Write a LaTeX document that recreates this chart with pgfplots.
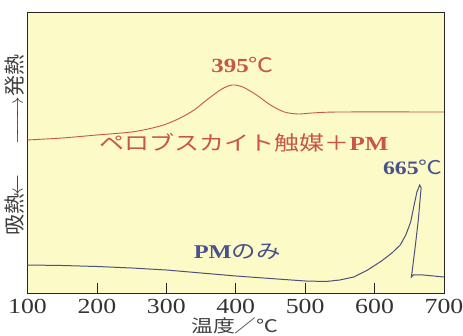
\documentclass[border=0pt]{standalone}
\usepackage{graphicx}
\usepackage{fontspec}
\setmainfont{Liberation Serif}
\newfontfamily\jp{Noto Sans CJK JP}
\usepackage{pgfplots}
\pgfplotsset{compat=1.18}
\definecolor{bgY}{RGB}{252,250,198}
\definecolor{redc}{RGB}{200,85,75}
\definecolor{bluec}{RGB}{75,82,125}
\definecolor{bluet}{RGB}{72,82,140}
\newcommand\hs[1]{\scalebox{1.25}[1]{#1}}
\newcommand\tks[1]{\scalebox{1.2}[1]{\fontsize{21.5}{21.5}\selectfont #1}}
\begin{document}
\begin{tikzpicture}
\useasboundingbox (0,0) rectangle (463pt,336pt);
\begin{axis}[
  at={(27.5pt,43pt)}, anchor=south west,
  scale only axis, width=416.5pt, height=281pt,
  xmin=100, xmax=700, ymin=0, ymax=281,
  axis background/.style={fill=bgY},
  axis line style={draw=black!85, line width=0.9pt},
  xtick={100,200,...,700}, ytick=\empty,
  xticklabels={\tks{100},\tks{200},\tks{300},\tks{400},\tks{500},\tks{600},\tks{700}},
  xtick pos=bottom, xtick align=inside,
  major tick length=10pt,
  tick style={black!85, line width=0.8pt},
  xticklabel style={text=black!80, yshift=-3pt},
  clip=false,
]
\addplot[redc, line width=0.9pt, smooth, tension=0.5] coordinates {
(100,153) (150,155) (200,158) (250,161) (280,165) (300,169) (320,175) (340,183)
(360,194) (380,204) (395,208) (410,206) (430,198) (450,188) (470,181) (490,179)
(510,180) (550,181) (700,181)};
\addplot[bluec, line width=1pt] coordinates {
(100,28) (150,27.5) (200,26.5) (250,25) (300,23) (350,20) (400,17) (450,14.5)
(500,12) (530,11.5) (550,13) (570,16) (590,23) (610,32) (625,40) (637,48)
(645,58) (652,71) (657,88) (661,101) (665,108) (667,105) (663,73) (658,43)
(654,21) (653,16) (656,18) (670,18) (700,16)};
\node[text=redc] at (axis cs:410,228) {\hs{\fontsize{20}{20}\selectfont\textbf{395}{\jp ℃}}};
\node[text=redc] at (axis cs:412,150) {\hs{\fontsize{20}{20}\selectfont{\jp ペロブスカイト触媒＋}\textbf{PM}}};
\node[text=bluet] at (axis cs:655,126) {\hs{\fontsize{19}{19}\selectfont\textbf{665}{\jp ℃}}};
\node[text=bluet] at (axis cs:402,41) {\hs{\fontsize{19.5}{19.5}\selectfont\textbf{PM}{\jp のみ}}};
\node[rotate=90, text=black!75] at (rel axis cs:-0.03,0.527) {\fontsize{21}{21}\selectfont{\jp 吸熱}\makebox[16pt]{\leftarrowfill}\hspace{33pt}\makebox[48pt]{\rightarrowfill}{\jp 発熱}};
\node[text=black!75] at (rel axis cs:0.498,-0.118) {\hs{\fontsize{17.5}{17.5}\selectfont\jp 温度／℃}};
\end{axis}
\end{tikzpicture}
\end{document}
